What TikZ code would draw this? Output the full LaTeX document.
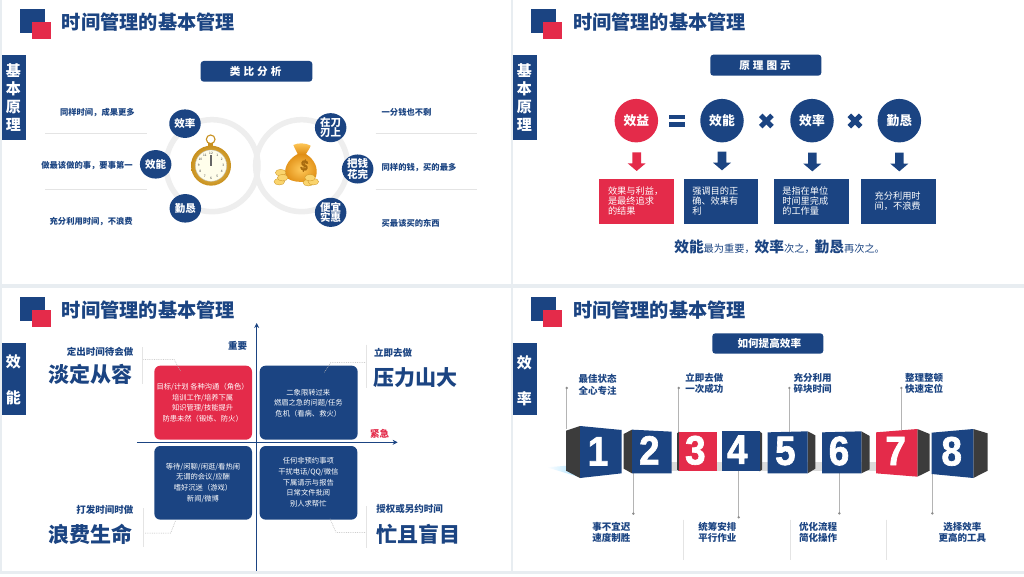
\documentclass[tikz,border=0pt]{standalone}
\usepackage{fontspec}
\setmainfont{Noto Sans CJK SC}
\newfontfamily\digitfont[BoldFeatures={FakeBold=1.6,FakeStretch=0.9}]{Liberation Sans}
\usetikzlibrary{arrows.meta,shapes.geometric}
\definecolor{navy}{HTML}{1B4482}
\definecolor{rose}{HTML}{E42B4A}
\definecolor{gapc}{HTML}{E8EDF1}
\definecolor{ringc}{HTML}{EEEEEE}
\definecolor{rulec}{HTML}{E4E4E4}
\definecolor{slate}{HTML}{3C3C3C}
\definecolor{leadc}{HTML}{B4B4B4}
\definecolor{goldd}{HTML}{C8901E}
\definecolor{goldl}{HTML}{F6DC7A}
\definecolor{bagl}{HTML}{FFC95A}
\definecolor{bagd}{HTML}{E08E14}
\newcommand{\fsz}[2]{\fontsize{#1pt}{#2pt}\selectfont}
\newcommand{\spc}{\kern3pt}
\tikzset{
  x=1pt,y=-1pt,
  zoomed/.style={scale=0.33333},
  txt/.style={inner sep=0,outer sep=0,align=center},
  navytxt/.style={txt,text=navy,font=\bfseries\fsz{9.5}{11.7}},
  sidetab/.style={txt,text=white,font=\bfseries\fsz{15}{17.8}},
  small/.style={txt,text=navy,font=\bfseries\fsz{8.3}{10}},
  big/.style={txt,text=navy,font=\bfseries\fsz{21}{24}},
  mid/.style={txt,text=navy,font=\bfseries\fsz{9.5}{11}},
  quad/.style={txt,text=white,font=\fsz{7.3}{10.7}},
  desc/.style={txt,text=white,align=left,font=\fsz{9.2}{10.3}},
  pill/.style={fill=navy,rounded corners=3pt},
  pilltxt/.style={txt,text=white,font=\bfseries\fsz{10.6}{12}},
  ball/.style={ellipse,fill=navy,inner sep=0,outer sep=0,align=center,text=white,minimum width=31.5pt,minimum height=28.5pt,font=\bfseries\fsz{10.5}{10.5}},
  bigball/.style={circle,fill=navy,inner sep=0,outer sep=0,minimum size=43.5pt,text=white,font=\bfseries\fsz{12.8}{14}},
  digit/.style={txt,text=white,font=\digitfont\bfseries\fsz{41}{41}},
  leader/.style={draw=leadc,line width=.6pt},
  thinrule/.style={draw=rulec,line width=.5pt},
  dots/.style={draw=leadc,line width=.5pt,dash pattern=on .8pt off 1pt},
}
\newcommand{\blockarrow}[3]{% x, top y, colour
  \fill[#3] (#1-13,#2) -- (#1+13,#2) -- (#1+13,#2+33) -- (#1+27,#2+33) -- (#1,#2+56) -- (#1-27,#2+33) -- (#1-13,#2+33) -- cycle;}
\begin{document}
\begin{tikzpicture}
\useasboundingbox (0,0) rectangle (1024,577);
\fill[gapc] (0,0) rectangle (1024,577);
\fill[white] (2,0) rectangle (511,283.5);
\fill[white] (513,0) rectangle (1024,283.5);
\fill[white] (2,288) rectangle (511,571);
\fill[white] (513,288) rectangle (1024,571);
\fill[white] (0,574) rectangle (1024,577);

% headers
\foreach \i/\sx/\sy in {a/0/0,b/511/0,c/0/288,d/511/288}{
\begin{scope}[shift={(\sx,\sy)},zoomed]
  \fill[navy] (60,27) rectangle (136,100);
  \fill[rose] (96,66) rectangle (152,118);
  \node[txt,anchor=west,text=navy,font=\bfseries\fsz{19.2}{22}] (title\i) at (186,65) {时间管理的基本管理};
\end{scope}}

%%% Panel 1
\begin{scope}[zoomed]
  \fill[navy] (6,165) rectangle (78,421);
  \node[sidetab] (tab1) at (40,293) {基\\本\\原\\理};
  \fill[pill] (602,183) rectangle (937,245);
  \node[pilltxt] (btn1) at (767,214) {类\spc 比\spc 分\spc 析};
  \draw[ringc,line width=5.5pt] (636,497) circle (138);
  \draw[ringc,line width=5.5pt] (905,497) circle (138);
  \draw[thinrule] (135,400) -- (442,400);
  \draw[thinrule] (135,568) -- (442,568);
  \draw[thinrule] (1127,400) -- (1432,400);
  \draw[thinrule] (1127,568) -- (1432,568);
  \node[ball] (eff) at (555,371) {效率};
  \node[ball] (perf) at (467,493) {效能};
  \node[ball] (dili) at (556,625) {勤恳};
  \node[ball] (knife) at (992,383) {在刀\\刃上};
  \node[ball] (spend) at (1073,507) {把钱\\花完};
  \node[ball] (cheap) at (992,637) {便宜\\实惠};
  \node[small,anchor=west] (l1) at (180,338) {同样时间，成果更多};
  \node[small,anchor=east] (l2) at (398,498) {做最该做的事，要事第一};
  \node[small,anchor=east] (l3) at (398,664) {充分利用时间，不浪费};
  \node[small,anchor=west] (r1) at (1145,338) {一分钱也不剩};
  \node[small,anchor=west] (r2) at (1145,503) {同样的钱，买的最多};
  \node[small,anchor=west] (r3) at (1145,669) {买最该买的东西};
  % watch
  \draw[goldd,line width=1.1pt] (632,418) circle (13);
  \fill[goldd] (625,430) rectangle (640,440);
  \shade[outer color=goldd,inner color=goldl] (633,497) circle (60);
  \fill[white!92!yellow] (633,497) circle (47);
  \draw[gray!50,line width=.3pt] (633,497) circle (47);
  \foreach \h in {1,...,12}{
    \node[txt,text=black!80,font=\fsz{3.2}{3.2}] at ({633+37*sin(\h*30)},{497-37*cos(\h*30)}) {\h};
  }
  \draw[black!60,line width=.4pt] (631,497) -- (631,465);
  \draw[black!60,line width=.4pt] (634,497) -- (634,465);
  % bag
  \shade[inner color=bagl,outer color=bagd] (893,462) .. controls (860,480) and (850,510) .. (858,530) .. controls (870,550) and (935,552) .. (948,530) .. controls (955,505) and (945,480) .. (918,462) -- cycle;
  \shade[top color=bagl,bottom color=bagd] (880,435) .. controls (895,428) and (915,428) .. (932,437) .. controls (928,448) and (922,455) .. (918,462) -- (893,462) .. controls (888,452) and (884,445) .. (880,435) -- cycle;
  \node[txt,text=bagd!75!black,rotate=-10,font=\digitfont\bfseries\fsz{15}{15}] at (913,497) {\$};
  \foreach \cx/\cy in {842/518,838/545,848/533,925/548,940/545,930/533}{
    \fill[goldl!60!bagl,draw=goldd,line width=.3pt] (\cx,\cy) ellipse (16 and 10);
  }
\end{scope}

%%% Panel 2
\begin{scope}[shift={(512,0)},zoomed]
  \fill[navy] (3,165) rectangle (75,421);
  \node[sidetab] (tab2) at (37,293) {基\\本\\原\\理};
  \fill[pill] (595,164) rectangle (928,227);
  \node[pilltxt] (btn2) at (759,196) {原\spc 理\spc 图\spc 示};
  \node[bigball,fill=rose] (c0) at (373,362) {效益};
  \node[bigball] (c1) at (630,362) {效能};
  \node[bigball] (c2) at (900,362) {效率};
  \node[bigball] (c3) at (1162,362) {勤恳};
  \fill[navy] (470,344) rectangle (520,358);
  \fill[navy] (470,367) rectangle (520,382);
  \foreach \mx in {763,1029}{
    \draw[navy,line width=5pt] (\mx-17,363-17) -- (\mx+17,363+17);
    \draw[navy,line width=5pt] (\mx+17,363-17) -- (\mx-17,363+17);
  }
  \blockarrow{374}{457}{rose}
  \blockarrow{630}{455}{navy}
  \blockarrow{901}{458}{navy}
  \blockarrow{1162}{458}{navy}
  \fill[rose] (262,538) rectangle (486,672);
  \fill[navy] (515,538) rectangle (739,672);
  \fill[navy] (786,538) rectangle (1010,672);
  \fill[navy] (1048,538) rectangle (1272,672);
  \node[desc,anchor=west] (d0) at (288,603) {效果与利益，\\是最终追求\\的结果};
  \node[desc,anchor=west] (d1) at (541,603) {强调目的正\\确、效果有\\利};
  \node[desc,anchor=west] (d2) at (811,603) {是指在单位\\时间里完成\\的工作量};
  \node[desc,anchor=west] (d3) at (1088,603) {充分利用时\\间，不浪费};
  \node[txt,anchor=west,text=navy] (sum) at (487,741) {\fsz{14.7}{16}\textbf{效能}\fsz{10.2}{16}最为重要，\fsz{14.7}{16}\textbf{效率}\fsz{10.2}{16}次之，\fsz{14.7}{16}\textbf{勤恳}\fsz{10.2}{16}再次之。};
\end{scope}

%%% Panel 3
\begin{scope}[shift={(0,288)},zoomed]
  \fill[navy] (6,165) rectangle (78,382);
  \node[sidetab,font=\bfseries\fsz{15}{36}] (tab3) at (40,275) {效\\能};
  \fill[rose,rounded corners=6pt] (463,233) rectangle (756,455);
  \fill[navy,rounded corners=6pt] (779,233) rectangle (1073,455);
  \fill[navy,rounded corners=6pt] (463,474) rectangle (756,695);
  \fill[navy,rounded corners=6pt] (779,474) rectangle (1072,695);
  \node[quad] (q1) at (608,344) {目标/计划 各种沟通（角色）\\培训工作/培养下属\\知识管理/技能提升\\防患未然（锻炼、防火）};
  \node[quad] (q2) at (925,345) {二象限转过来\\燃眉之急的问题/任务\\危机（看病、救火）};
  \node[quad] (q3) at (609,584) {等待/闲聊/闲逛/看热闹\\无谓的会议/应酬\\嗜好沉迷（游戏）\\新闻/微博};
  \node[quad] (q4) at (925,583) {任何非预约事项\\干扰电话/QQ/微信\\下属请示与报告\\日常文件批阅\\别人求帮忙};
  \coordinate (ybot) at (770,848);
  \coordinate (ytop) at (770,105);
  \coordinate (xl) at (411,463);
  \coordinate (xr) at (1193,463);
  \draw[navy,line width=1.2pt,-{Stealth[length=5pt,width=5pt]}] (ybot) -- (ytop);
  \draw[navy,line width=1.2pt,-{Stealth[length=5pt,width=5pt]}] (xl) -- (xr);
  \node[mid] (imp) at (713,175) {重要};
  \node[mid,text=rose] (urg) at (1139,438) {紧急};
  \node[mid,anchor=east] (t1) at (400,192) {定出时间待会做};
  \node[big,anchor=east] (b1) at (399,258) {淡定从容};
  \node[mid,anchor=west] (t2) at (1122,195) {立即去做};
  \node[big,anchor=west] (b2) at (1121,268) {压力山大};
  \node[mid,anchor=east] (t3) at (400,666) {打发时间时做};
  \node[big,anchor=east] (b3) at (399,740) {浪费生命};
  \node[mid,anchor=west] (t4) at (1129,664) {授权或另约时间};
  \node[big,anchor=west] (b4) at (1128,738) {忙且盲目};
  \draw[thinrule] (428,178) -- (428,288);
  \draw[thinrule] (1100,170) -- (1100,300);
  \draw[thinrule] (430,660) -- (430,778);
  \draw[thinrule] (1100,655) -- (1100,780);
  \draw[dots] (430,214) -- (522,214) -- (542,250);
  \draw[dots] (1095,224) -- (992,224) -- (972,255);
  \draw[dots] (435,735) -- (512,735) -- (527,697);
  \draw[dots] (1095,733) -- (1008,733) -- (990,692);
\end{scope}

%%% Panel 4
\begin{scope}[shift={(512,288)},zoomed]
  \fill[navy] (3,165) rectangle (75,382);
  \node[sidetab,font=\bfseries\fsz{15}{36}] (tab4) at (37,277) {效\\率};
  \fill[pill] (601,136) rectangle (934,197);
  \node[pilltxt] (btn4) at (772,167) {如何提高效率};
  \shade[left color=white,right color=blue!35!cyan!35] (105,538) -- (165,533) -- (204,568) -- cycle;
  \fill[gray!28] (470,522) rectangle (1100,548);
  % leader anchors
  \coordinate (u1a) at (164,300); \coordinate (u1b) at (164,424);
  \coordinate (u2a) at (500,300); \coordinate (u2b) at (500,432);
  \coordinate (u3a) at (832,300); \coordinate (u3b) at (832,431);
  \coordinate (u4a) at (1168,300); \coordinate (u4b) at (1168,427);
  \coordinate (d1a) at (364,677); \coordinate (d1b) at (364,556);
  \coordinate (d2a) at (680,688); \coordinate (d2b) at (680,549);
  \coordinate (d3a) at (982,676); \coordinate (d3b) at (982,556);
  \coordinate (d4a) at (1261,676); \coordinate (d4b) at (1261,558);
  \foreach \a/\b in {u1a/u1b,u2a/u2b,u3a/u3b,u4a/u4b,d1a/d1b,d2a/d2b,d3a/d3b,d4a/d4b}{
    \draw[leader] (\a) -- (\b);
    \fill[gray!90] (\a) circle (4);
  }
  % cubes
  \fill[slate] (162,428) -- (204,414) -- (204,570) -- (162,548) -- cycle;
  \fill[navy] (204,414) -- (329,426) -- (329,556) -- (204,570) -- cycle;
  \fill[slate] (335,438) -- (360,425) -- (360,556) -- (335,542) -- cycle;
  \fill[navy] (360,425) -- (479,431) -- (479,556) -- (360,556) -- cycle;
  \fill[slate] (495,436) -- (501,431) -- (501,549) -- (495,545) -- cycle;
  \fill[rose] (501,431) -- (615,431) -- (615,549) -- (501,549) -- cycle;
  \fill[slate] (743,430) -- (750,436) -- (750,545) -- (743,550) -- cycle;
  \fill[navy] (629,430) -- (743,430) -- (743,549) -- (629,549) -- cycle;
  \fill[slate] (887,430) -- (910,442) -- (910,542) -- (887,556) -- cycle;
  \fill[navy] (767,433) -- (887,430) -- (887,556) -- (767,556) -- cycle;
  \fill[slate] (1048,430) -- (1073,444) -- (1073,544) -- (1048,556) -- cycle;
  \fill[navy] (930,433) -- (1048,430) -- (1048,556) -- (930,556) -- cycle;
  \fill[slate] (1216,423) -- (1253,438) -- (1253,548) -- (1216,566) -- cycle;
  \fill[rose] (1092,433) -- (1216,423) -- (1216,566) -- (1092,556) -- cycle;
  \fill[slate] (1384,423) -- (1427,436) -- (1427,548) -- (1384,570) -- cycle;
  \fill[navy] (1259,434) -- (1384,423) -- (1384,570) -- (1259,558) -- cycle;
  \node[digit] (n1) at (258,490) {1};
  \node[digit] (n2) at (412,487) {2};
  \node[digit] (n3) at (550,487) {3};
  \node[digit] (n4) at (676,485) {4};
  \node[digit] (n5) at (820,489) {5};
  \node[digit] (n6) at (981,489) {6};
  \node[digit] (n7) at (1151,489) {7};
  \node[digit] (n8) at (1319,490) {8};
  \node[navytxt] (a1) at (257,290) {最佳状态\\全心专注};
  \node[navytxt] (a2) at (577,286) {立即去做\\一次成功};
  \node[navytxt] (a3) at (902,286) {充分利用\\碎块时间};
  \node[navytxt] (a4) at (1236,286) {整理整顿\\快速定位};
  \node[navytxt] (e1) at (298,733) {事不宜迟\\速度制胜};
  \node[navytxt] (e2) at (616,733) {统筹安排\\平行作业};
  \node[navytxt] (e3) at (918,733) {优化流程\\简化操作};
  \node[navytxt] (e4) at (1351,733) {选择效率\\更高的工具};
  \draw[thinrule] (515,695) -- (515,815);
  \draw[thinrule] (835,695) -- (835,815);
  \draw[thinrule] (1123,695) -- (1123,815);
\end{scope}
\end{tikzpicture}
\end{document}
